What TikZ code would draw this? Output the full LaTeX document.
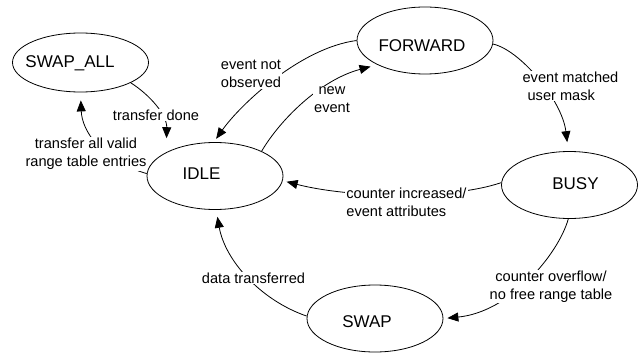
\documentclass[tikz,border=0pt]{standalone}
\usepackage{fontspec}
\setmainfont{Liberation Sans}
\usetikzlibrary{shapes.geometric,arrows.meta}

\begin{document}
\begin{tikzpicture}[x=1pt,y=-1pt,
  state/.style={draw, ellipse, line width=0.8pt, minimum width=136pt,
    minimum height=67pt, inner sep=0pt},
  statetext/.style={font=\fontsize{17}{20}\selectfont, text height=12.2pt,
    text depth=0pt, inner sep=0pt},
  lab/.style={font=\fontsize{14.6}{18}\selectfont, fill=white,
    inner sep=1pt, align=center},
  arr/.style={line width=0.8pt, -{Triangle[length=11pt,width=9pt]}},
]
\useasboundingbox (0,0) rectangle (643,353);

% states
\node[state, minimum height=59pt,
  label={[statetext, xshift=-10.5pt, yshift=1pt]center:SWAP\_ALL}]
  (swapall) at (80.5,62.5) {};
\node[state, label={[statetext, xshift=-13.5pt, yshift=3pt]center:IDLE}]
  (idle) at (215,176) {};
\node[state, label={[statetext, xshift=-3pt, yshift=-4.5pt]center:FORWARD}]
  (forward) at (425,40.5) {};
\node[state, label={[statetext, xshift=6pt, yshift=1.5pt]center:BUSY}]
  (busy) at (569.5,185) {};
\node[state, label={[statetext, xshift=-8pt, yshift=-2.5pt]center:SWAP}]
  (swap) at (375,318.5) {};

% transitions
\draw[arr, shorten >=8pt] (idle.178) .. controls (100,160) and (82,130) .. (swapall.-90);
\draw[arr, shorten >=14pt] (swapall.-22) .. controls (150,95) and (167,115) .. (idle.154);
\draw[arr, shorten >=4pt] (forward.180) .. controls (300,48) and (240,105) .. (idle.92);
\draw[arr, shorten >=7pt] (idle.28) .. controls (280,120) and (320,80) .. (forward.207);
\draw[arr, shorten >=9pt] (forward.-3) .. controls (520,50) and (562,100) .. (busy.92);
\draw[arr, shorten >=4pt] (busy.178) .. controls (450,200) and (350,198) .. (idle.-4);
\draw[arr, shorten >=4pt] (busy.-92) .. controls (558,255) and (510,312) .. (swap.east);
\draw[arr, shorten >=7pt] (swap.178) .. controls (260,300) and (225,260) .. (idle.-88);

% transition labels
\node[lab] (l-all) at (86,154) {transfer all valid\\range table entries};
\node[lab] (l-done) at (156,115) {transfer done};
\node[lab] (l-notobs) at (251,74) {event not\\observed};
\node[lab] (l-new) at (332,100) {new\\event};
\node[lab, align=left] (l-match) at (570.5,86) {event matched\\\hspace*{5pt}user mask};
\node[lab, align=left] (l-incr) at (406.5,202) {counter increased/\\event attributes};
\node[lab] (l-ovfl) at (551,286.5) {counter overflow/\\no free range table};
\node[lab] (l-data) at (253.5,278) {data transferred};
\end{tikzpicture}
\end{document}
